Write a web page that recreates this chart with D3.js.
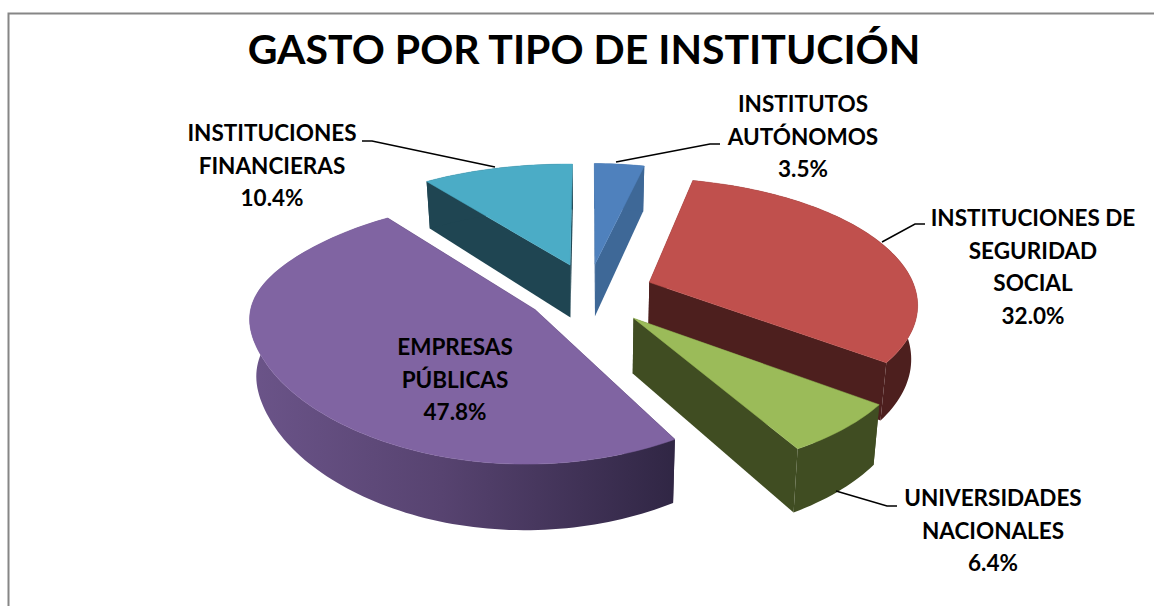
<!DOCTYPE html>
<html>
<head>
<meta charset="utf-8">
<script src="https://cdn.jsdelivr.net/npm/d3@7"></script>
<style>
	html, body { margin: 0; padding: 0; background: #fff; }
	text { font-family: Lato, "Open Sans", sans-serif; font-weight: 700; fill: #000; }
</style>
</head>
<body>
<div id="chart"></div>
<script>
const title = "GASTO POR TIPO DE INSTITUCIÓN";
const categories = ["INSTITUTOS AUTÓNOMOS", "INSTITUCIONES DE SEGURIDAD SOCIAL", "UNIVERSIDADES NACIONALES", "EMPRESAS PÚBLICAS", "INSTITUCIONES FINANCIERAS"];
const values = [3.5, 32.0, 6.4, 47.8, 10.4];
const label_lines = [
	["INSTITUTOS", "AUTÓNOMOS"],
	["INSTITUCIONES DE", "SEGURIDAD", "SOCIAL"],
	["UNIVERSIDADES", "NACIONALES"],
	["EMPRESAS", "PÚBLICAS"],
	["INSTITUCIONES", "FINANCIERAS"]
];

// styling and layout, one entry per slice
const top_colors = ["#4f81bd", "#c0504d", "#9bbb59", "#8064a2", "#4bacc6"];
const side_colors = ["#3e6897", "#4d1f1e", "#404d22", "url(#purple-side)", "#1f4552"];
const label_x = [803, 1033, 993, 455, 272];
const label_y = [112, 226, 506, 355, 141];
const nudge_x = [-7, 0, -1, -12, -8];
const nudge_y = [-5, -3, 4, 1, -5];
const persp_front = [0.16, 0.16, 0.16, 0.06, 0.16];
const leaders = [
	[[616, 162], [710, 144], [720, 144]],
	[[882, 242], [915, 224], [925, 224]],
	[[836, 491], [887, 506], [897, 506]],
	null,
	[[362, 141], [372, 141], [495, 167]]
];
const draw_order = [0, 4, 1, 3, 2];

const width = 1154, height = 606;
const cx = 596, cy = 294;
const rx = 274, ry = 124, depth = 54;
const persp = 0.16, persp_x = 0.02, explode = 0.21, taper = 0.02;

const svg = d3.select("#chart").append("svg")
	.attr("width", width)
	.attr("height", height)
	.style("display", "block");

// purple wall goes from lighter on the left to dark on the right
const grad = svg.append("defs").append("linearGradient")
	.attr("id", "purple-side")
	.attr("gradientUnits", "userSpaceOnUse")
	.attr("x1", 250).attr("x2", 676).attr("y1", 0).attr("y2", 0);
grad.append("stop").attr("offset", 0).attr("stop-color", "#6b5489");
grad.append("stop").attr("offset", 0.45).attr("stop-color", "#574370");
grad.append("stop").attr("offset", 1).attr("stop-color", "#302644");

// chart frame
svg.append("path")
	.attr("d", `M8.5,${height} V13.5 H${width}`)
	.attr("fill", "none")
	.attr("stroke", "#868686")
	.attr("stroke-width", 2);

svg.append("text")
	.attr("x", 584)
	.attr("y", 64)
	.attr("text-anchor", "middle")
	.style("font-size", "41px")
	.text(title);

const pie = d3.pie().sort(null).startAngle(0).endAngle(2 * Math.PI);
const arcs = pie(values);
const line = d3.line();

// point on a slice to screen, z=1 is the top face and z=0 the bottom one
const slice_point = function(d, a, r, z){
	var mid = (d.startAngle + d.endAngle) / 2;
	var x = r * Math.sin(a) + explode * Math.sin(mid);
	var y = -r * Math.cos(a) - explode * Math.cos(mid);
	var s = 1 / (1 - persp * y + persp_x * x);
	// blend back perspective into the front one so the rim has no kink
	var w = Math.max(0, Math.min(1, 0.5 - y));
	w = w * w * (3 - 2 * w);
	var p = persp_front[d.index] + (persp - persp_front[d.index]) * w;
	var sx = 1 / (1 - p * y + persp_x * x);
	var t = 1 - taper * (1 - z);
	return [cx + nudge_x[d.index] + rx * x * sx * t, cy + nudge_y[d.index] + ry * y * s + depth * (1 - z) * s];
};

const arc_points = function(d, z){
	var n = Math.max(4, Math.ceil((d.endAngle - d.startAngle) * 40));
	return d3.range(n + 1).map(i => slice_point(d, d.startAngle + (d.endAngle - d.startAngle) * i / n, 1, z));
};

const pie_grp = svg.append("g").attr("class", "pie-grp");

draw_order.forEach(function(i){
	var d = arcs[i];
	var grp = pie_grp.append("g").attr("class", "slice");
	var apex_top = slice_point(d, 0, 0, 1);
	var apex_bot = slice_point(d, 0, 0, 0);
	var top_arc = arc_points(d, 1);
	var bot_arc = arc_points(d, 0);

	// the two cut walls
	var walls = [
		[apex_top, top_arc[0], bot_arc[0], apex_bot],
		[apex_top, top_arc[top_arc.length - 1], bot_arc[bot_arc.length - 1], apex_bot]
	];
	walls.forEach(function(w){
		grp.append("path")
			.attr("d", line(w) + "Z")
			.attr("fill", i == 3 ? "#302644" : side_colors[i]);
	});

	// outer wall
	grp.append("path")
		.attr("d", line(top_arc.concat(bot_arc.slice().reverse())) + "Z")
		.attr("fill", side_colors[i]);

	// top face
	grp.append("path")
		.attr("d", line([apex_top].concat(top_arc)) + "Z")
		.attr("fill", top_colors[i])
		.attr("stroke", top_colors[i])
		.attr("stroke-width", 0.5);
});

// leader lines
leaders.forEach(function(l){
	if (!l) return;
	svg.append("path")
		.attr("d", line(l))
		.attr("fill", "none")
		.attr("stroke", "#000")
		.attr("stroke-width", 1.5);
});

// data labels
values.forEach(function(v, i){
	var lines = label_lines[i].concat([v.toFixed(1) + "%"]);
	var t = svg.append("text")
		.attr("class", "data-label")
		.attr("text-anchor", "middle")
		.style("font-size", "22.5px");
	lines.forEach(function(s, j){
		t.append("tspan")
			.attr("x", label_x[i])
			.attr("y", label_y[i] + j * 32.5)
			.text(s);
	});
});
</script>
</body>
</html>
